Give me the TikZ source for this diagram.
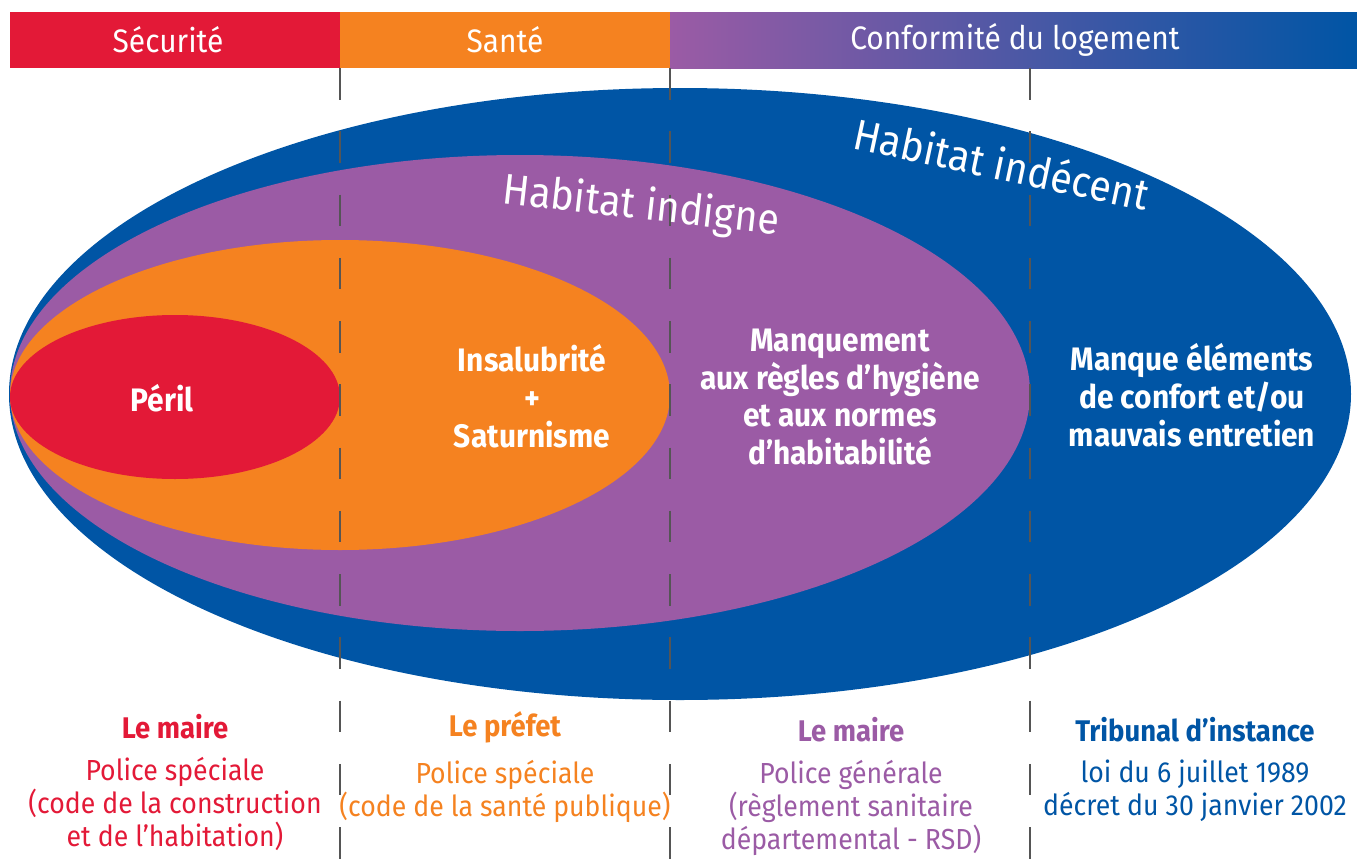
\documentclass[tikz,border=0pt]{standalone}
\usepackage{fontspec}
\setmainfont[FakeStretch=0.92]{Fira Sans}
\usetikzlibrary{positioning}

\definecolor{secured}{HTML}{E31937}
\definecolor{santeorange}{HTML}{F58220}
\definecolor{indignepurple}{HTML}{9B5BA5}
\definecolor{indecentblue}{HTML}{0055A5}
\definecolor{sepgray}{HTML}{555555}

\begin{document}
\begin{tikzpicture}[
    x=0.02cm, y=-0.02cm,
    node distance=3pt,
    bar/.style={text=white, font=\fontsize{18.5}{21}\selectfont},
    zone/.style={text=white, align=center, font=\bfseries\fontsize{18.5}{21.5}\selectfont},
    big/.style={text=white, font=\fontsize{24.5}{27}\selectfont},
    title/.style={font=\bfseries\fontsize{17}{19}\selectfont},
    law/.style={align=center, font=\fontsize{16.5}{18.8}\selectfont},
    sep/.style={draw=sepgray, line width=1.1pt, dash pattern=on 18pt off 18pt}
]
    \useasboundingbox (0,0) rectangle (1357,859);

    % bandeau du haut
    \fill[secured] (10,12) rectangle (340,68);
    \fill[santeorange] (340,12) rectangle (670,68);
    \shade[left color=indignepurple, right color=indecentblue] (670,12) rectangle (1357,68);
    \node[bar] (securite) at (168,40) {Sécurité};
    \node[bar] (sante) at (505,40) {Santé};
    \node[bar] (conformite) at (1015,40) {Conformité du logement};

    % ellipses emboitees
    \fill[indecentblue] (680,394) ellipse [x radius=671, y radius=306];
    \fill[indignepurple] (520,393) ellipse [x radius=510, y radius=238];
    \fill[santeorange] (340,395) ellipse [x radius=330, y radius=155];
    \fill[secured] (175,397) ellipse [x radius=165, y radius=82];

    % separateurs
    \foreach \xs in {340,670,1030}
        \draw[sep] (\xs,68) -- (\xs,859);

    \node[big, rotate=-12] (indecent) at (1002,163) {Habitat indécent};
    \node[big, rotate=-6.5] (indigne) at (641,207) {Habitat indigne};

    \node[zone] (peril) at (162,398) {Péril};
    \node[zone] (insalubrite) at (532,396) {Insalubrité\\+\\Saturnisme};
    \node[zone] (manquement) at (840,397) {Manquement\\aux règles d’hygiène\\et aux normes\\d’habitabilité};
    \node[zone] (confort) at (1192,395) {Manque éléments\\de confort et/ou\\mauvais entretien};

    % autorites competentes
    \node[title, text=secured] (maire1) at (175,727) {Le maire};
    \node[law, text=secured, below=of maire1] (police1) {Police spéciale\\(code de la construction\\et de l’habitation)};
    \node[title, text=santeorange] (prefet) at (505,727) {Le préfet};
    \node[law, text=santeorange, below=of prefet] (police2) {Police spéciale\\(code de la santé publique)};
    \node[title, text=indignepurple] (maire2) at (851,730) {Le maire};
    \node[law, text=indignepurple, below=of maire2] (police3) {Police générale\\(règlement sanitaire\\départemental - RSD)};
    \node[title, text=indecentblue] (tribunal) at (1195,730) {Tribunal d’instance};
    \node[law, text=indecentblue, below=of tribunal] (textes) {loi du 6 juillet 1989\\décret du 30 janvier 2002};
\end{tikzpicture}
\end{document}
